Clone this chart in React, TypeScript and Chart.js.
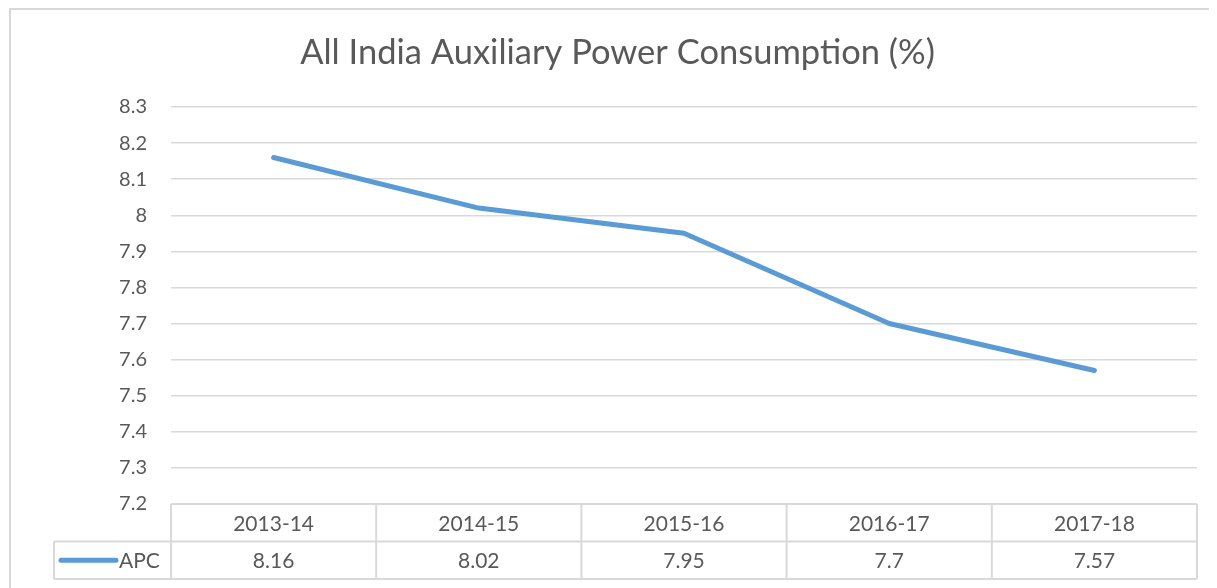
import React, { useEffect, useRef } from "react";
import { Chart, registerables } from "chart.js";

Chart.register(...registerables);

const categories = ["2013-14", "2014-15", "2015-16", "2016-17", "2017-18"];
const apcValues = [8.16, 8.02, 7.95, 7.7, 7.57];
const seriesName = "APC";
const titleText = "All India Auxiliary Power Consumption (%)";
const yMin = 7.2;
const yMax = 8.3;
const yStep = 0.1;

const TEXT = "#595959";
const GRID = "#d9d9d9";
const LINE = "#5b9bd5";
const FONT = "Lato, 'Open Sans', sans-serif";

const W = 1209;
const H = 580;

const framePlugin = {
  id: "frame",
  beforeDraw(chart: any) {
    const ctx = chart.ctx;
    ctx.save();
    ctx.fillStyle = "#ffffff";
    ctx.fillRect(0, 0, chart.width, chart.height);
    ctx.strokeStyle = GRID;
    ctx.lineWidth = 2;
    ctx.beginPath();
    ctx.moveTo(2, chart.height + 5);
    ctx.lineTo(2, 1);
    ctx.lineTo(chart.width + 5, 1);
    ctx.stroke();
    ctx.restore();
  },
};

const tablePlugin = {
  id: "dataTable",
  afterDraw(chart: any) {
    const { ctx, chartArea } = chart;
    const xs = chart.scales.x;
    const n = categories.length;
    const colW = (chartArea.right - chartArea.left) / n;
    const top = chartArea.bottom;
    const rowH = 37.5;
    const legendLeft = 46;
    ctx.save();
    ctx.strokeStyle = GRID;
    ctx.lineWidth = 2;
    const seg = (x1: number, y1: number, x2: number, y2: number) => {
      ctx.beginPath();
      ctx.moveTo(x1, y1);
      ctx.lineTo(x2, y2);
      ctx.stroke();
    };
    seg(chartArea.left, top, chartArea.right, top);
    seg(legendLeft, top + rowH, chartArea.right, top + rowH);
    seg(legendLeft, top + 2 * rowH, chartArea.right, top + 2 * rowH);
    for (let i = 0; i <= n; i++) {
      const xi = i < n ? xs.getPixelForValue(i) - colW / 2 : xs.getPixelForValue(n - 1) + colW / 2;
      seg(xi, top, xi, top + 2 * rowH);
    }
    seg(legendLeft, top + rowH, legendLeft, top + 2 * rowH);

    ctx.fillStyle = TEXT;
    ctx.font = `21px ${FONT}`;
    ctx.textAlign = "center";
    ctx.textBaseline = "middle";
    for (let i = 0; i < n; i++) {
      const cx = xs.getPixelForValue(i);
      ctx.fillText(categories[i], cx, top + rowH / 2 + 1);
      ctx.fillText(String(apcValues[i]), cx, top + rowH * 1.5 + 1);
    }
    // legend key
    ctx.strokeStyle = LINE;
    ctx.lineWidth = 5;
    ctx.lineCap = "round";
    seg(53, top + rowH * 1.5, 108, top + rowH * 1.5);
    ctx.textAlign = "left";
    ctx.fillText(seriesName, 111, top + rowH * 1.5 + 1);
    ctx.restore();
  },
};

export default function App() {
  const ref = useRef<HTMLCanvasElement | null>(null);
  useEffect(() => {
    if (!ref.current) return;
    const chart = new Chart(ref.current, {
      type: "line",
      data: {
        labels: categories,
        datasets: [
          {
            label: seriesName,
            data: apcValues,
            borderColor: LINE,
            backgroundColor: LINE,
            borderWidth: 5,
            pointRadius: 0,
            tension: 0,
            borderCapStyle: "round",
            borderJoinStyle: "round",
          },
        ],
      },
      options: {
        responsive: false,
        animation: false,
        layout: { padding: { left: 30, right: 20, top: 0, bottom: 84 } },
        plugins: {
          legend: { display: false },
          tooltip: { enabled: false },
          title: {
            display: true,
            text: titleText,
            color: TEXT,
            font: { family: FONT, size: 34.5, weight: "normal", lineHeight: 1.2 },
            padding: { top: 24, bottom: 33.6 },
          },
        },
        scales: {
          x: {
            display: false,
            offset: true,
          },
          y: {
            min: yMin,
            max: yMax,
            afterFit(scale: any) {
              scale.width = 133;
            },
            border: { display: false },
            grid: { color: GRID, lineWidth: 1.5, drawTicks: false },
            ticks: {
              stepSize: yStep,
              padding: 24,
              color: TEXT,
              font: { family: FONT, size: 20 },
              callback: (v: any) => String(Number(Number(v).toFixed(1))),
            },
          },
        },
      },
      plugins: [framePlugin, tablePlugin],
    });
    return () => chart.destroy();
  }, []);
  return (
    <div style={{ width: W, height: H }}>
      <canvas ref={ref} width={W} height={H} style={{ display: "block" }} />
    </div>
  );
}
